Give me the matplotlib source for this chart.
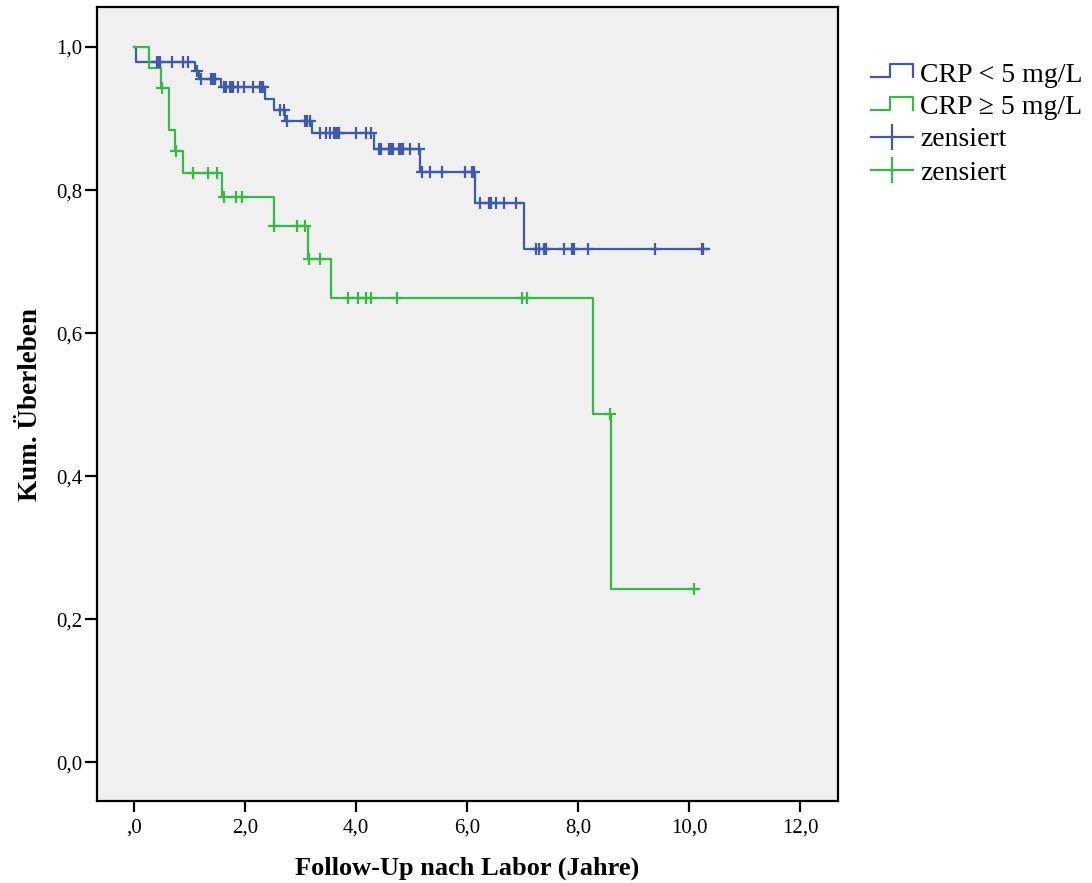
import numpy as np
import matplotlib
matplotlib.use("Agg")
import matplotlib.pyplot as plt

plt.rcParams['font.family'] = ['Liberation Serif', 'DejaVu Serif']

# Kaplan-Meier Stufen (Zeit in Jahren, kum. Ueberleben)
t_low = [0.0, 0.03, 1.10, 1.18, 1.57, 2.37, 2.53, 2.73, 3.20, 4.33, 5.15, 6.14, 7.02, 10.37]
s_low = [1.0, 0.979, 0.967, 0.955, 0.944, 0.927, 0.912, 0.897, 0.880, 0.858, 0.825, 0.782, 0.717, 0.717]

t_high = [0.0, 0.28, 0.48, 0.63, 0.74, 0.89, 1.58, 2.52, 3.14, 3.55, 8.28, 8.60, 10.17]
s_high = [1.0, 0.971, 0.943, 0.884, 0.855, 0.824, 0.790, 0.750, 0.703, 0.649, 0.487, 0.243, 0.243]

# zensierte Faelle
cens_low = [0.41, 0.44, 0.47, 0.68, 0.89, 0.97, 1.13, 1.20, 1.39, 1.42, 1.46,
            1.62, 1.65, 1.74, 1.76, 1.79, 1.87, 1.98, 2.15, 2.27, 2.30, 2.33,
            2.64, 2.71, 2.75, 3.08, 3.12, 3.17, 3.35, 3.46, 3.53, 3.61, 3.64,
            3.67, 3.70, 4.00, 4.19, 4.27, 4.42, 4.45, 4.60, 4.63, 4.66, 4.78,
            4.81, 4.85, 4.98, 5.13, 5.19, 5.34, 5.55, 5.96, 6.09, 6.12, 6.23,
            6.39, 6.43, 6.52, 6.66, 6.89, 7.24, 7.30, 7.39, 7.42, 7.75, 7.89,
            7.93, 8.19, 9.39, 10.24, 10.26]
cens_high = [0.50, 0.75, 1.06, 1.34, 1.49, 1.63, 1.84, 1.95, 2.53, 2.93, 3.08,
             3.15, 3.35, 3.85, 4.03, 4.19, 4.28, 4.74, 7.00, 7.08, 8.58, 10.09]

labels = ['CRP < 5 mg/L', 'CRP \u2265 5 mg/L', 'zensiert', 'zensiert']

blue = '#3d5aac'
green = '#33bb44'

def surv_at(t_steps, s_steps, times):
    idx = np.searchsorted(t_steps, times, side='right') - 1
    return np.array(s_steps)[idx]

fig = plt.figure(figsize=(10.92, 8.83), dpi=100)
ax = fig.add_axes([0.0891, 0.0929, 0.678, 0.8988])
ax.set_facecolor('#f0f0f0')

ax.step(t_low, s_low, where='post', color=blue, lw=1.6)
ax.step(t_high, s_high, where='post', color=green, lw=1.6)
ax.plot(cens_low, surv_at(t_low, s_low, cens_low), ls='none', marker='+',
        ms=9, mew=1.6, color=blue)
ax.plot(cens_high, surv_at(t_high, s_high, cens_high), ls='none', marker='+',
        ms=9, mew=1.6, color=green)

ax.set_xlim(-0.66, 12.68)
ax.set_ylim(-0.054, 1.0555)
ax.set_xticks([0, 2, 4, 6, 8, 10, 12])
ax.set_xticklabels([',0', '2,0', '4,0', '6,0', '8,0', '10,0', '12,0'])
ax.set_yticks([0, 0.2, 0.4, 0.6, 0.8, 1.0])
ax.set_yticklabels(['0,0', '0,2', '0,4', '0,6', '0,8', '1,0'])
ax.tick_params(axis='x', direction='out', length=8, width=1.6, labelsize=15, pad=5)
ax.tick_params(axis='y', direction='out', length=8.5, width=1.6, labelsize=15, pad=2)
for sp in ax.spines.values():
    sp.set_linewidth(1.6)

ax.set_xlabel('Follow-Up nach Labor (Jahre)', fontsize=19, fontweight='bold', labelpad=13)
ax.set_ylabel('Kum. \u00dcberleben', fontsize=19.5, fontweight='bold', labelpad=10)

# Legende (Pixelkoordinaten)
lax = fig.add_axes([0, 0, 1, 1], zorder=5)
lax.set_xlim(0, 1092)
lax.set_ylim(883, 0)
lax.axis('off')
rows = [77, 110, 137, 170]
cols = [blue, green, blue, green]
for i in range(4):
    y = rows[i]
    if i < 2:
        lax.plot([871, 890, 890, 913, 913], [y, y, y - 13.5, y - 13.5, y], color=cols[i], lw=1.6)
        ty = y - 2
    else:
        lax.plot([871, 913], [y, y], color=cols[i], lw=1.6)
        lax.plot([892, 892], [y - 12, y + 12], color=cols[i], lw=1.6)
        ty = y + 3
    lax.text(920, ty, labels[i], fontsize=20, va='center', ha='left')

fig.savefig('out.png', dpi=100, facecolor='white')
